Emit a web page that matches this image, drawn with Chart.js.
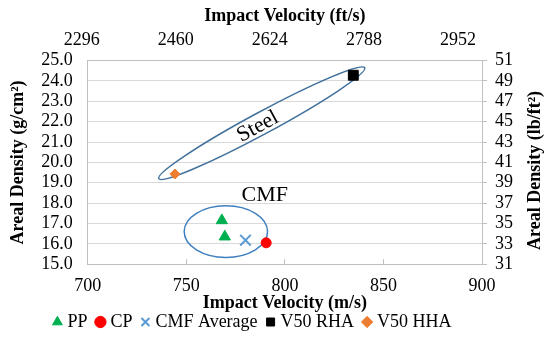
<!DOCTYPE html>
<html>
<head>
<meta charset="utf-8">
<script src="https://cdn.jsdelivr.net/npm/chart.js@4.4.1/dist/chart.umd.min.js"></script>
<style>
  html, body { margin: 0; padding: 0; background: #fff; }
  #wrap { width: 550px; height: 338px; }
</style>
</head>
<body>
<div id="wrap"><canvas id="chart"></canvas></div>
<script>
// --- Data ---
const ppVelocity = [768, 769.5];
const ppDensity = [17.15, 16.35];
const cpVelocity = [790.5];
const cpDensity = [16.05];
const cmfAvgVelocity = [780];
const cmfAvgDensity = [16.18];
const rhaVelocity = [834.7];
const rhaDensity = [24.28];
const hhaVelocity = [744.2];
const hhaDensity = [19.43];

const ftTicks = [2296, 2460, 2624, 2788, 2952];   // top axis labels (ft/s)
const lbTicks = [31, 33, 35, 37, 39, 41, 43, 45, 47, 49, 51]; // right axis labels (lb/ft2)

// group outlines, in data units
const steelTips = [[736, 19.2], [840.5, 24.65]];
const cmfBox = { x0: 748.9, x1: 791.2, y0: 15.33, y1: 17.87 };

const toPts = (xs, ys) => xs.map((x, i) => ({ x, y: ys[i] }));

const SERIF = 'Liberation Serif';
const f = (size, weight) => ({ family: SERIF, size, weight: weight || 'normal' });
Chart.defaults.font.family = SERIF;
Chart.defaults.font.size = 18;
Chart.defaults.color = '#000';

const AXIS = '#bfbfbf';
const GRID = '#d9d9d9';

// --- Overlay: ellipses, labels, right axis title ---
const overlay = {
  id: 'overlay',
  afterLayout(chart) {
    const lg = chart.legend;
    lg.left -= 22; lg.right -= 22;
  },
  beforeDatasetsDraw(chart) {
    const { ctx, scales: { x, y } } = chart;
    ctx.save();
    // steel
    const ax = x.getPixelForValue(steelTips[0][0]), ay = y.getPixelForValue(steelTips[0][1]);
    const bx = x.getPixelForValue(steelTips[1][0]), by = y.getPixelForValue(steelTips[1][1]);
    const ang = Math.atan2(by - ay, bx - ax);
    ctx.strokeStyle = '#41719c';
    ctx.lineWidth = 1.5;
    ctx.beginPath();
    ctx.ellipse((ax + bx) / 2, (ay + by) / 2, Math.hypot(bx - ax, by - ay) / 2, 11, ang, 0, Math.PI * 2);
    ctx.stroke();
    // cmf
    const cx0 = x.getPixelForValue(cmfBox.x0), cx1 = x.getPixelForValue(cmfBox.x1);
    const cy0 = y.getPixelForValue(cmfBox.y0), cy1 = y.getPixelForValue(cmfBox.y1);
    ctx.strokeStyle = '#3f7fc0';
    ctx.beginPath();
    ctx.ellipse((cx0 + cx1) / 2, (cy0 + cy1) / 2, Math.abs(cx1 - cx0) / 2, Math.abs(cy1 - cy0) / 2, 0, 0, Math.PI * 2);
    ctx.stroke();
    // labels
    ctx.fillStyle = '#000';
    ctx.font = "22px 'Liberation Serif'";
    ctx.textAlign = 'center';
    ctx.textBaseline = 'middle';
    ctx.fillText('CMF', x.getPixelForValue(789.8), y.getPixelForValue(18.4));
    ctx.translate(x.getPixelForValue(786.3), y.getPixelForValue(21.75));
    ctx.rotate(ang);
    ctx.fillText('Steel', 0, 0);
    ctx.restore();
  },
  afterDraw(chart) {
    const { ctx } = chart;
    const s = chart.scales.y2;
    ctx.save();
    ctx.translate(s.right - 10.8, (s.top + s.bottom) / 2 + 8);
    ctx.rotate(-Math.PI / 2);
    ctx.font = "bold 18px 'Liberation Serif'";
    ctx.fillStyle = '#000';
    ctx.textAlign = 'center';
    ctx.textBaseline = 'middle';
    ctx.fillText('Areal Density (lb/ft\u00b2)', 0, 0);
    ctx.restore();
  }
};

new Chart(document.getElementById('chart'), {
  type: 'scatter',
  data: {
    datasets: [
      { label: 'PP', data: toPts(ppVelocity, ppDensity), pointStyle: 'triangle', pointRadius: 6.5,
        backgroundColor: '#00b050', borderColor: '#00b050', borderWidth: 1 },
      { label: 'CP', data: toPts(cpVelocity, cpDensity), pointStyle: 'circle', pointRadius: 5,
        backgroundColor: '#ff0000', borderColor: '#ff0000', borderWidth: 1 },
      { label: 'CMF Average', data: toPts(cmfAvgVelocity, cmfAvgDensity), pointStyle: 'crossRot', pointRadius: 7.5,
        backgroundColor: '#5b9bd5', borderColor: '#5b9bd5', borderWidth: 2 },
      { label: 'V50 RHA', data: toPts(rhaVelocity, rhaDensity), pointStyle: 'rect', pointRadius: 7,
        backgroundColor: '#000', borderColor: '#000', borderWidth: 1 },
      { label: 'V50 HHA', data: toPts(hhaVelocity, hhaDensity), pointStyle: 'rectRot', pointRadius: 5,
        backgroundColor: '#ed7d31', borderColor: '#ed7d31', borderWidth: 1 }
    ]
  },
  options: {
    responsive: true,
    maintainAspectRatio: false,
    animation: false,
    layout: { autoPadding: false, padding: { left: 6, right: 4, top: 0, bottom: -3 } },
    plugins: {
      tooltip: { enabled: false },
      legend: {
        position: 'bottom',
        labels: { usePointStyle: true, boxWidth: 2, boxHeight: 8, padding: 12, font: f(18) }
      }
    },
    scales: {
      x: {
        type: 'linear', position: 'bottom', min: 700, max: 900,
        ticks: { stepSize: 50, padding: 16, maxRotation: 0, font: f(18) },
        grid: { drawOnChartArea: false, tickLength: -5, color: AXIS },
        border: { color: AXIS },
        title: { display: true, text: 'Impact Velocity (m/s)', font: f(18, 'bold'),
                 padding: { top: -20.6, bottom: -12.8 } }
      },
      x2: {
        type: 'linear', position: 'top', min: 2306.5, max: 2994,
        afterBuildTicks: s => { s.ticks = ftTicks.map(v => ({ value: v })); },
        ticks: { padding: 10, autoSkip: false, maxRotation: 0, font: f(18), callback: v => String(v) },
        grid: { display: false, drawTicks: false },
        border: { color: AXIS },
        title: { display: true, text: 'Impact Velocity (ft/s)', font: f(18, 'bold'),
                 padding: { top: 5.5, bottom: -8.1 } }
      },
      y: {
        type: 'linear', position: 'left', min: 15, max: 25,
        ticks: { stepSize: 1, padding: 15, autoSkip: false, font: f(18), callback: v => v.toFixed(1) },
        grid: { color: GRID, drawTicks: false },
        border: { color: AXIS },
        title: { display: true, text: 'Areal Density (g/cm\u00b2)', font: f(18, 'bold'),
                 padding: { top: 1.5, bottom: -2.8 } }
      },
      y2: {
        type: 'linear', position: 'right', min: 31, max: 51,
        afterBuildTicks: s => { s.ticks = lbTicks.map(v => ({ value: v })); },
        ticks: { padding: 8, autoSkip: false, font: f(18), callback: v => String(v) },
        grid: { drawOnChartArea: false, tickLength: 5, color: AXIS },
        border: { color: AXIS },
        title: { display: true, text: 'Areal Density (lb/ft\u00b2)', color: 'rgba(0,0,0,0)',
                 font: f(18, 'bold'), padding: { top: 0, bottom: 3.4 } }
      }
    }
  },
  plugins: [overlay]
});
</script>
</body>
</html>
